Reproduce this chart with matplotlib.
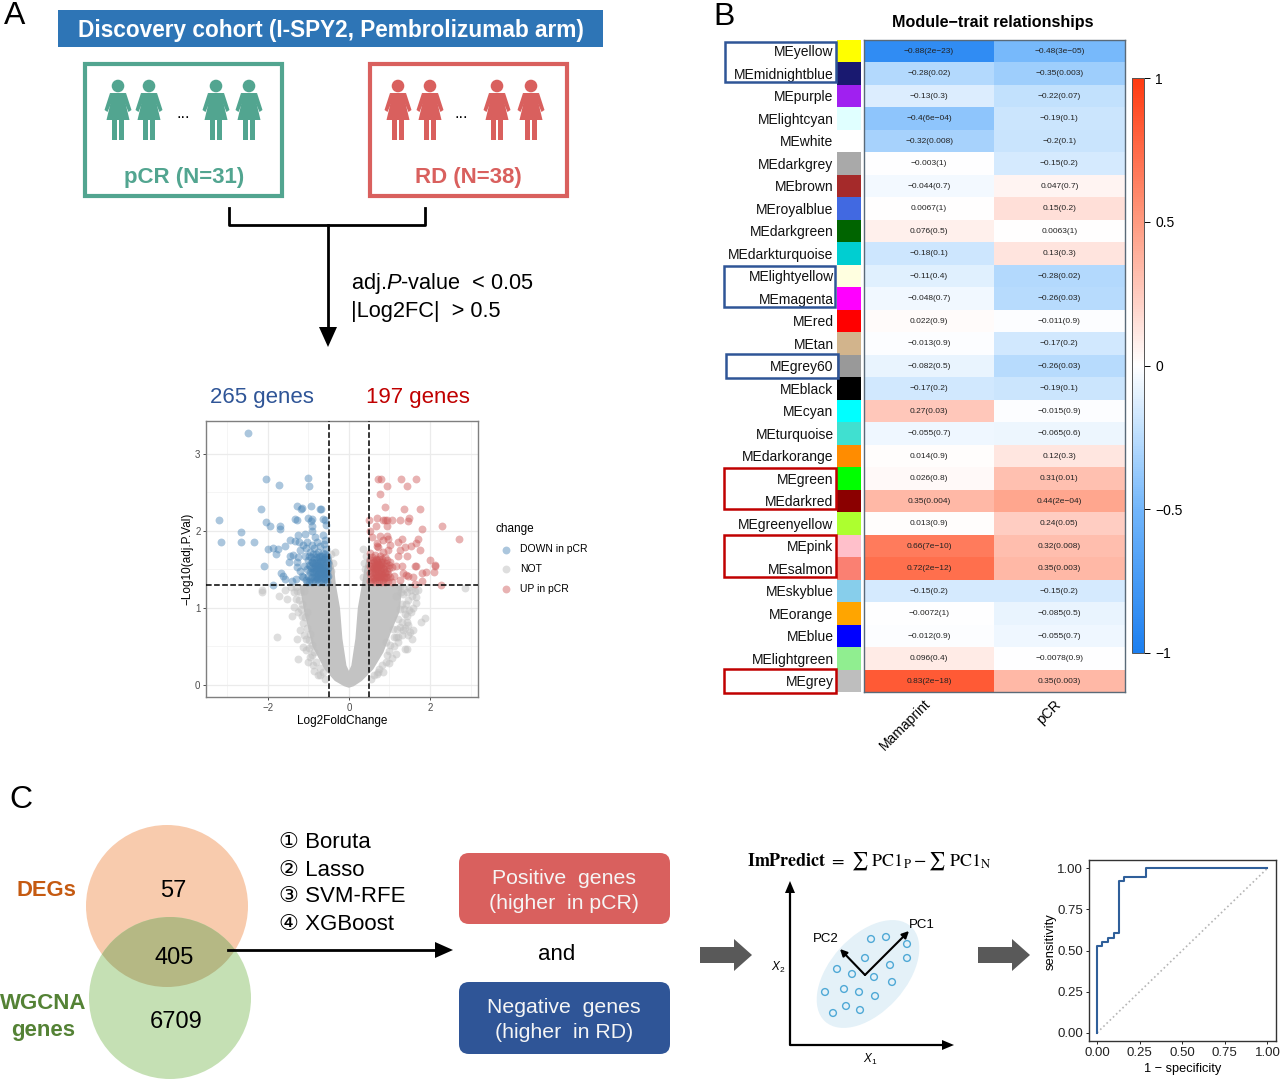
import numpy as np
import matplotlib
matplotlib.use("Agg")
import matplotlib.pyplot as plt
from matplotlib.colors import LinearSegmentedColormap
from matplotlib.patches import Rectangle, Circle, Ellipse, FancyBboxPatch, Polygon

plt.rcParams['font.family'] = ['Liberation Sans', 'DejaVu Sans']
plt.rcParams['mathtext.fontset'] = 'custom'
plt.rcParams['mathtext.it'] = 'Liberation Sans:italic'
plt.rcParams['mathtext.rm'] = 'Liberation Sans'

W, H = 1280, 1079

# heatmap data
modules = ["yellow", "midnightblue", "purple", "lightcyan", "white", "darkgrey", "brown",
           "royalblue", "darkgreen", "darkturquoise", "lightyellow", "magenta", "red", "tan",
           "grey60", "black", "cyan", "turquoise", "darkorange", "green", "darkred",
           "greenyellow", "pink", "salmon", "skyblue", "orange", "blue", "lightgreen", "grey"]
module_colors = ["#FFFF00", "#191970", "#A020F0", "#E0FFFF", "#FFFFFF", "#A9A9A9", "#A52A2A",
                 "#4169E1", "#006400", "#00CED1", "#FFFFE0", "#FF00FF", "#FF0000", "#D2B48C",
                 "#999999", "#000000", "#00FFFF", "#40E0D0", "#FF8C00", "#00FF00", "#8B0000",
                 "#ADFF2F", "#FFC0CB", "#FA8072", "#87CEEB", "#FFA500", "#0000FF", "#90EE90", "#BEBEBE"]
mama_r = [-0.88, -0.28, -0.13, -0.4, -0.32, -0.003, -0.044, 0.0067, 0.076, -0.18, -0.11, -0.048,
          0.022, -0.013, -0.082, -0.17, 0.27, -0.055, 0.014, 0.026, 0.35, 0.013, 0.66, 0.72,
          -0.15, -0.0072, -0.012, 0.096, 0.83]
mama_p = ["2e-23", "0.02", "0.3", "6e-04", "0.008", "1", "0.7", "1", "0.5", "0.1", "0.4", "0.7",
          "0.9", "0.9", "0.5", "0.2", "0.03", "0.7", "0.9", "0.8", "0.004", "0.9", "7e-10", "2e-12",
          "0.2", "1", "0.9", "0.4", "2e-18"]
pcr_r = [-0.48, -0.35, -0.22, -0.19, -0.2, -0.15, 0.047, 0.15, 0.0063, 0.13, -0.28, -0.26,
         -0.011, -0.17, -0.26, -0.19, -0.015, -0.065, 0.12, 0.31, 0.44, 0.24, 0.32, 0.35,
         -0.15, -0.085, -0.055, -0.0078, 0.35]
pcr_p = ["3e-05", "0.003", "0.07", "0.1", "0.1", "0.2", "0.7", "0.2", "1", "0.3", "0.02", "0.03",
         "0.9", "0.2", "0.03", "0.1", "0.9", "0.6", "0.3", "0.01", "2e-04", "0.05", "0.008", "0.003",
         "0.2", "0.5", "0.7", "0.9", "0.003"]
traits = ["Mamaprint", "pCR"]

# volcano data
down_pts = [(-2.48, 3.28), (-2.04, 2.68), (-1.71, 2.60), (-1.0, 2.69), (-0.98, 2.59), (-2.17, 2.29),
            (-1.27, 2.33), (-1.16, 2.30), (-1.18, 2.29), (-0.93, 2.33), (-0.71, 2.28), (-0.69, 2.29),
            (-3.21, 2.14), (-2.03, 2.12), (-1.95, 2.07), (-1.69, 2.06), (-1.69, 2.02), (-1.32, 2.16),
            (-1.28, 2.14), (-1.0, 2.17), (-0.9, 2.15), (-0.93, 2.13), (-0.65, 2.15), (-0.59, 2.14),
            (-0.57, 2.08), (-0.9, 2.06), (-2.66, 1.99), (-3.16, 1.85), (-2.66, 1.86), (-2.33, 1.85),
            (-2.0, 1.77), (-1.87, 1.78), (-1.74, 1.77), (-1.8, 1.70), (-1.57, 1.8), (-1.45, 1.88),
            (-1.25, 1.95), (-1.08, 1.96), (-0.84, 1.92), (-0.63, 1.95), (-0.58, 1.88), (-0.92, 2.0),
            (-2.09, 1.55), (-1.67, 1.45), (-1.62, 1.41), (-1.57, 1.37), (-1.86, 1.30), (-1.45, 1.68),
            (-1.25, 1.66), (-1.47, 1.59), (-1.29, 1.53), (-1.2, 1.48), (-1.4, 1.35), (-1.3, 1.38),
            (-1.38, 1.69), (-1.28, 1.6), (-1.24, 1.85), (-1.33, 1.87), (-1.21, 1.75), (-1.15, 1.42),
            (-1.12, 1.82), (-1.05, 1.78), (-1.02, 1.85), (-0.97, 1.72), (-0.92, 1.82), (-0.85, 1.78),
            (-0.78, 1.85), (-0.7, 1.81), (-0.62, 1.83), (-0.56, 1.77), (-1.08, 1.68), (-1.0, 1.62),
            (-0.94, 1.66), (-0.88, 1.7), (-0.82, 1.66), (-0.76, 1.72), (-0.7, 1.68), (-0.64, 1.71),
            (-0.58, 1.66), (-1.1, 1.55), (-1.04, 1.5), (-0.98, 1.56), (-0.93, 1.52), (-0.88, 1.58),
            (-0.84, 1.54), (-0.8, 1.6), (-0.76, 1.56), (-0.72, 1.61), (-0.68, 1.55), (-0.64, 1.6),
            (-0.6, 1.55), (-0.55, 1.59), (-0.52, 1.52), (-1.12, 1.4), (-1.06, 1.36), (-1.0, 1.42),
            (-0.96, 1.46), (-0.92, 1.4), (-0.88, 1.47), (-0.84, 1.42), (-0.8, 1.49), (-0.76, 1.44),
            (-0.72, 1.5), (-0.68, 1.44), (-0.64, 1.49), (-0.6, 1.44), (-0.56, 1.48), (-0.52, 1.42),
            (-1.04, 1.33), (-0.98, 1.35), (-0.9, 1.34), (-0.84, 1.35), (-0.78, 1.37), (-0.74, 1.34),
            (-0.68, 1.36), (-0.63, 1.34), (-0.58, 1.37), (-0.53, 1.34), (-0.82, 1.52), (-0.74, 1.53),
            (-0.66, 1.52), (-0.78, 1.42), (-0.7, 1.41), (-0.62, 1.4), (-0.9, 1.6), (-0.86, 1.5),
            (-0.75, 1.64), (-0.67, 1.63), (-0.6, 1.63), (-0.54, 1.68), (-0.79, 1.54), (-0.71, 1.47),
            (-0.98, 1.68), (-0.92, 1.6), (-0.86, 1.63), (-0.8, 1.7), (-0.73, 1.66), (-0.66, 1.67),
            (-0.6, 1.7), (-0.55, 1.63), (-0.96, 1.55), (-0.9, 1.47), (-0.83, 1.58), (-0.77, 1.5),
            (-0.7, 1.58), (-0.63, 1.56), (-0.57, 1.53), (-0.52, 1.58), (-0.95, 1.38), (-0.87, 1.38),
            (-0.81, 1.4), (-0.75, 1.39), (-0.67, 1.39), (-0.6, 1.38), (-0.54, 1.4), (-0.73, 1.45),
            (-0.65, 1.45), (-0.58, 1.46), (-0.53, 1.47), (-0.85, 1.46), (-0.69, 1.61), (-0.62, 1.5)]
up_pts = [(0.72, 2.67), (0.78, 2.67), (0.93, 2.59), (1.28, 2.67), (1.43, 2.59), (1.66, 2.67),
          (0.76, 2.48), (0.89, 2.31), (1.36, 2.29), (1.76, 2.29), (0.5, 2.14), (0.7, 2.17),
          (0.66, 2.06), (0.84, 2.14), (0.88, 2.14), (0.93, 2.14), (1.05, 2.14), (1.25, 2.14),
          (1.48, 2.17), (1.46, 2.13), (0.95, 2.07), (1.8, 2.03), (2.3, 2.06), (2.7, 1.9),
          (1.7, 1.9), (1.65, 1.84), (1.54, 1.81), (1.3, 1.9), (1.2, 1.85), (1.38, 1.79),
          (1.25, 1.75), (1.21, 1.68), (1.44, 1.68), (1.76, 1.75), (1.99, 1.62), (2.13, 1.56),
          (2.12, 1.55), (1.65, 1.55), (1.62, 1.55), (2.09, 1.47), (1.89, 1.46), (1.79, 1.45),
          (2.26, 1.30), (1.79, 1.35), (1.62, 1.31), (1.57, 1.4), (1.34, 1.45), (1.16, 1.55),
          (1.05, 1.53), (1.25, 1.36), (0.52, 2.0), (0.56, 1.92), (0.76, 1.94), (0.93, 1.94),
          (0.97, 1.9), (0.68, 1.81), (0.72, 1.79), (0.52, 1.71), (0.84, 1.73), (0.97, 1.75),
          (0.7, 1.84), (0.84, 1.88), (1.02, 1.82), (1.3, 1.54), (1.4, 1.43), (1.46, 1.42),
          (0.53, 1.62), (0.58, 1.66), (0.64, 1.69), (0.7, 1.62), (0.76, 1.68), (0.82, 1.63),
          (0.88, 1.66), (0.95, 1.62), (1.02, 1.6), (0.53, 1.54), (0.58, 1.58), (0.62, 1.52),
          (0.66, 1.57), (0.7, 1.5), (0.74, 1.56), (0.78, 1.52), (0.82, 1.57), (0.86, 1.5),
          (0.9, 1.55), (0.95, 1.48), (1.0, 1.52), (0.53, 1.45), (0.57, 1.49), (0.6, 1.43),
          (0.64, 1.47), (0.68, 1.42), (0.72, 1.46), (0.76, 1.41), (0.8, 1.46), (0.84, 1.41),
          (0.88, 1.45), (0.92, 1.4), (0.97, 1.44), (1.02, 1.4), (0.52, 1.35), (0.56, 1.37),
          (0.6, 1.34), (0.65, 1.36), (0.7, 1.34), (0.75, 1.36), (0.8, 1.34), (0.85, 1.35),
          (0.9, 1.33), (0.96, 1.35), (1.06, 1.34), (1.12, 1.42), (0.68, 1.6), (0.74, 1.64),
          (0.63, 1.6), (0.8, 1.55), (0.72, 1.53), (0.66, 1.5), (0.78, 1.44), (0.7, 1.4),
          (0.56, 1.52), (0.6, 1.62), (0.66, 1.64), (0.72, 1.58), (0.78, 1.6), (0.84, 1.6),
          (0.92, 1.58), (0.98, 1.56), (0.55, 1.4), (0.6, 1.47), (0.62, 1.39), (0.66, 1.43),
          (0.74, 1.4), (0.8, 1.4), (0.86, 1.39), (0.9, 1.47), (0.95, 1.4), (0.58, 1.54),
          (0.68, 1.53), (0.76, 1.49), (0.84, 1.5), (0.72, 1.43), (0.82, 1.43), (0.64, 1.55)]
not_pts = [(-2.15, 1.23), (-2.15, 1.2), (-1.71, 1.15), (-1.57, 1.23), (-1.53, 1.11), (-1.35, 1.01),
           (-1.41, 0.9), (-1.12, 0.8), (-1.2, 0.71), (-1.78, 0.62), (-1.29, 0.59), (-1.26, 0.34),
           (-1.12, 0.49), (-0.96, 0.36), (-0.75, 0.13), (-1.3, 1.12), (-1.25, 0.95), (-1.15, 1.05),
           (-1.2, 1.2), (-1.1, 0.65), (-1.05, 0.45), (-0.98, 0.58), (-0.88, 0.25), (-0.85, 0.42),
           (-1.3, 1.27), (-0.34, 1.73), (-0.39, 1.58), (-0.45, 1.7), (-0.43, 1.48), (0.35, 1.77),
           (0.37, 1.58), (0.35, 1.40), (0.42, 1.68), (0.4, 1.5), (2.87, 1.26), (1.7, 1.23),
           (1.66, 1.14), (1.87, 0.87), (1.77, 0.81), (1.58, 0.71), (1.46, 0.65), (1.38, 0.47),
           (1.42, 0.47), (1.34, 0.71), (1.17, 0.62), (0.93, 0.39), (1.52, 1.23), (1.34, 1.18),
           (1.25, 0.98), (1.58, 1.0), (1.66, 1.06), (1.62, 1.22), (1.45, 1.1), (1.38, 0.92),
           (1.3, 1.05), (1.42, 0.82), (1.2, 0.85), (1.1, 0.5), (1.05, 0.35), (0.75, 0.2),
           (0.68, 0.14), (0.92, 0.55), (1.25, 0.75), (1.35, 1.25), (1.5, 0.68), (1.55, 0.6),
           (1.28, 1.2), (1.48, 0.97), (1.16, 1.15), (1.22, 0.55),
           (-1.28, 1.22), (-1.22, 1.1), (-1.18, 0.98), (-1.08, 0.88), (-1.02, 0.74), (-0.95, 0.66),
           (-0.98, 0.48), (-0.9, 0.38), (-0.8, 0.3), (-0.72, 0.22), (-0.65, 0.17), (-1.16, 0.9),
           (-1.05, 0.6), (-0.92, 0.52), (-1.36, 1.2), (-1.42, 1.27), (-1.1, 1.22), (-1.02, 0.95),
           (-0.85, 0.18), (-0.58, 0.08), (-0.7, 0.12), (-1.0, 0.3), (0.62, 0.12), (0.72, 0.17),
           (0.82, 0.26), (0.92, 0.3), (0.98, 0.44), (1.02, 0.52), (1.12, 0.62), (1.18, 0.72),
           (1.3, 0.82), (1.35, 0.98), (1.4, 1.05), (1.42, 1.2), (1.25, 1.28), (1.48, 1.27),
           (1.56, 1.15), (1.52, 0.95), (1.44, 0.9), (1.3, 0.65), (1.15, 0.4), (1.0, 0.28),
           (1.08, 0.72), (1.2, 0.62), (1.38, 0.74), (1.45, 0.78), (0.55, 0.08), (0.85, 0.16)]
core_x = [-0.5, -1.22, -1.1, -0.9, -0.6, -0.35, -0.12, 0, 0.12, 0.32, 0.6, 0.85, 1.05, 1.25,
          1.32, 0.5, 0.5, 0.44, 0.38, 0.32, 0.22, 0.16, 0.06, 0, -0.06, -0.16, -0.22, -0.32, -0.36, -0.42, -0.5]
core_y = [1.3, 1.3, 0.95, 0.5, 0.2, 0.05, -0.02, -0.04, -0.02, 0.05, 0.2, 0.42, 0.7, 0.95,
          1.3, 1.3, 1.7, 1.65, 1.5, 1.3, 1.0, 0.6, 0.25, 0.18, 0.25, 0.6, 1.0, 1.3, 1.5, 1.65, 1.7]

# ROC curve
roc_fpr = [0, 0, 0.032, 0.032, 0.065, 0.065, 0.097, 0.097, 0.129, 0.129, 0.161, 0.161, 0.29, 0.29, 1]
roc_tpr = [0, 0.526, 0.526, 0.553, 0.553, 0.579, 0.579, 0.605, 0.605, 0.921, 0.921, 0.947, 0.947, 1, 1]

# PCA sketch points
pca_x = [871, 886, 907, 907, 865, 890, 837, 852, 874, 892, 825, 844, 859, 875, 846, 860, 833]
pca_y = [939, 937, 944, 958, 958, 965, 969, 974, 977, 982, 992, 989, 992, 996, 1006, 1010, 1013]

blue_dark = "#2F5597"
red_dark = "#C00000"
teal = "#52A590"
coral = "#D9605E"


def px_axes(l, t, r, b):
    return fig.add_axes([l / W, 1 - b / H, (r - l) / W, (b - t) / H])


fig = plt.figure(figsize=(W / 100, H / 100), dpi=100)

# full figure overlay in pixels
bg = fig.add_axes([0, 0, 1, 1], zorder=5)
bg.set_xlim(0, W)
bg.set_ylim(H, 0)
bg.axis("off")
bg.patch.set_alpha(0)

for letter, lx, ly in [("A", 15, 16), ("B", 724, 17), ("C", 21, 800)]:
    bg.text(lx, ly, letter, fontsize=23, ha="center", va="center")

# panel A
bg.add_patch(Rectangle((58, 10), 545, 37, color="#2E75B6", lw=0))
bg.text(331, 30, "Discovery cohort (I-SPY2, Pembrolizumab arm)", color="white", fontsize=16.3,
        fontweight="bold", ha="center", va="center")
bg.add_patch(Rectangle((84.5, 63.5), 197, 132, fill=False, ec=teal, lw=3))
bg.add_patch(Rectangle((369.5, 63.5), 197, 132, fill=False, ec=coral, lw=3))


def woman(cx, color):
    bg.add_patch(Circle((cx, 86), 6.3, color=color, lw=0))
    bg.add_patch(Polygon([(cx - 8, 93), (cx + 8, 93), (cx + 7, 101), (cx + 11.5, 120),
                          (cx - 11.5, 120), (cx - 7, 101)], color=color, lw=0))
    bg.add_patch(Polygon([(cx - 8, 93), (cx - 13.5, 110), (cx - 10.5, 112), (cx - 5, 99)], color=color, lw=0))
    bg.add_patch(Polygon([(cx + 8, 93), (cx + 13.5, 110), (cx + 10.5, 112), (cx + 5, 99)], color=color, lw=0))
    bg.add_patch(Rectangle((cx - 6, 119), 5, 21, color=color, lw=0))
    bg.add_patch(Rectangle((cx + 1, 119), 5, 21, color=color, lw=0))


for cx in [118, 149, 216, 249]:
    woman(cx, teal)
for cx in [398, 430, 497, 531]:
    woman(cx, coral)
bg.text(183, 114, "...", ha="center", va="center", fontsize=12)
bg.text(461, 114, "...", ha="center", va="center", fontsize=12)
bg.text(184, 178, "pCR (N=31)", color=teal, fontsize=16, fontweight="bold", ha="center", va="center")
bg.text(468, 178, "RD (N=38)", color=coral, fontsize=16, fontweight="bold", ha="center", va="center")

bg.plot([229, 229, 425, 425], [208, 225, 225, 208], color="black", lw=2)
bg.plot([328, 328], [225, 330], color="black", lw=2)
bg.add_patch(Polygon([(319, 327), (337, 327), (328, 347)], color="black", lw=0))
bg.text(351, 284, "adj.$\\mathit{P}$-value  < 0.05", fontsize=15.7, ha="left", va="center")
bg.text(351, 311, "|Log2FC|  > 0.5", fontsize=15.7, ha="left", va="center")
bg.text(262, 397, "265 genes", color=blue_dark, fontsize=16, ha="center", va="center")
bg.text(418, 397, "197 genes", color=red_dark, fontsize=16, ha="center", va="center")

# volcano
ax = px_axes(206, 421, 478, 697)
down = np.array(down_pts)
up = np.array(up_pts)
other = np.array(not_pts)
ax.fill(core_x, core_y, color="#C3C3C3", lw=0, zorder=2)
s_not = ax.scatter(other[:, 0], other[:, 1], s=32, color="#BEBEBE", alpha=0.5, lw=0, zorder=2, label="NOT")
s_down = ax.scatter(down[:, 0], down[:, 1], s=32, color="#4682B4", alpha=0.45, lw=0, zorder=3, label="DOWN in pCR")
s_up = ax.scatter(up[:, 0], up[:, 1], s=32, color="#CD5555", alpha=0.45, lw=0, zorder=3, label="UP in pCR")
ax.axhline(1.3, color="black", ls="--", lw=1.1, zorder=4)
ax.axvline(-0.5, color="black", ls="--", lw=1.1, zorder=4)
ax.axvline(0.5, color="black", ls="--", lw=1.1, zorder=4)
ax.set_xlim(-3.52, 3.18)
ax.set_ylim(-0.16, 3.43)
ax.set_xticks([-2, 0, 2])
ax.set_xticklabels(["\u22122", "0", "2"])
ax.set_yticks([0, 1, 2, 3])
ax.set_xticks([-3, -1, 1, 3], minor=True)
ax.set_yticks([0.5, 1.5, 2.5], minor=True)
ax.grid(True, which="major", color="#EBEBEB", lw=0.9, zorder=0)
ax.grid(True, which="minor", color="#F2F2F2", lw=0.5, zorder=0)
ax.set_axisbelow(True)
ax.tick_params(which="minor", length=0)
ax.tick_params(which="major", labelsize=7, colors="#4D4D4D", length=2.5, width=0.7, pad=1.5)
for sp in ax.spines.values():
    sp.set_color("#7F7F7F")
    sp.set_linewidth(1)
ax.set_xlabel("Log2FoldChange", fontsize=8.5, labelpad=1.5)
ax.set_ylabel("\u2212Log10(adj.P.Val)", fontsize=8.5, labelpad=1.5)
ax.legend(handles=[s_down, s_not, s_up], title="change", frameon=False, fontsize=7.5, title_fontsize=8.5,
          loc="upper left", bbox_to_anchor=(1.065, 0.632), labelspacing=0.93, handletextpad=0.35,
          alignment="left", borderpad=0, borderaxespad=0, markerscale=1)

# heatmap
hm = px_axes(864, 39.5, 1124.5, 692)
cmap = LinearSegmentedColormap.from_list("bwr_wgcna", [(0, "#1C7FF0"), (0.25, "#72B6FB"), (0.375, "#BBDDFD"),
                                                       (0.5, "#FFFFFF"), (0.625, "#FFCBBF"), (0.75, "#FF9B80"),
                                                       (1, "#FF3A10")])
mat = np.column_stack([mama_r, pcr_r])
mesh = hm.pcolormesh(mat, cmap=cmap, vmin=-1, vmax=1)
hm.set_ylim(len(modules), 0)
hm.set_xticks([])
hm.set_yticks([])
for i in range(len(modules)):
    for j, (rr, pp) in enumerate([(mama_r, mama_p), (pcr_r, pcr_p)]):
        txt = f"{rr[i]:g}({pp[i]})".replace("-", "\u2212")
        hm.text(j + 0.5, i + 0.52, txt, ha="center", va="center", fontsize=6, color="#222222")
for sp in hm.spines.values():
    sp.set_color("#5A6A78")
    sp.set_linewidth(1)

# module colour strip + row labels
strip = px_axes(837, 39.5, 861, 692)
strip.barh(np.arange(len(modules)) + 0.5, 1, height=1, color=module_colors, lw=0)
strip.set_xlim(0, 1)
strip.set_ylim(len(modules), 0)
strip.set_xticks([])
strip.set_yticks(np.arange(len(modules)) + 0.5)
strip.set_yticklabels(["ME" + m for m in modules], fontsize=10, color="#111111")
strip.tick_params(axis="y", length=0, pad=2.5)
for sp in strip.spines.values():
    sp.set_visible(False)

bg.text(993, 23, "Module\u2212trait relationships", fontsize=11.6, fontweight="bold", ha="center", va="center")
bg.text(905, 725, traits[0], fontsize=10, rotation=45, ha="center", va="center")
bg.text(1049, 712, traits[1], fontsize=10, rotation=45, ha="center", va="center")

boxes = [(725, 42, 836, 82, blue_dark), (724, 266, 835, 307, blue_dark), (726, 354, 838, 378, blue_dark),
         (724, 468, 836, 509, red_dark), (724, 535, 836, 577, red_dark), (724, 669, 836, 693, red_dark)]
for x0, y0, x1, y1, c in boxes:
    bg.add_patch(Rectangle((x0, y0), x1 - x0, y1 - y0, fill=False, ec=c, lw=1.8))

# colorbar
cax = px_axes(1132, 78, 1144, 653)
cb = fig.colorbar(mesh, cax=cax)
cb.set_ticks([-1, -0.5, 0, 0.5, 1])
cb.set_ticklabels(["\u22121", "\u22120.5", "0", "0.5", "1"])
cb.ax.tick_params(labelsize=10, length=4, width=0.7, pad=4)
cb.outline.set_edgecolor("#555555")
cb.outline.set_linewidth(0.7)

# panel C venn
c_top = Circle((167, 906), 81, color="#F8CBAD", lw=0, zorder=1)
c_low = Circle((170, 998), 81, color="#C5E0B4", lw=0, zorder=1.5)
bg.add_patch(c_top)
bg.add_patch(c_low)
c_mid = Circle((170, 998), 81, color="#B5B884", lw=0, zorder=2)
bg.add_patch(c_mid)
c_mid.set_clip_path(Circle((167, 906), 81, transform=bg.transData))
bg.text(173, 891, "57", fontsize=17, ha="center", va="center", zorder=3)
bg.text(174, 958, "405", fontsize=17, ha="center", va="center", zorder=3)
bg.text(176, 1022, "6709", fontsize=17, ha="center", va="center", zorder=3)
bg.text(46, 891, "DEGs", color="#C55A11", fontsize=15.8, fontweight="bold", ha="center", va="center")
bg.text(43, 1017, "WGCNA\ngenes", color="#548235", fontsize=16, fontweight="bold", ha="center", va="center",
        linespacing=1.4)

for txt, yy in zip(["\u2460 Boruta", "\u2461 Lasso", "\u2462 SVM-RFE", "\u2463 XGBoost"], [843, 870, 897, 924]):
    bg.text(279, yy, txt, fontsize=16, ha="left", va="center")

bg.plot([228, 438], [950, 950], color="black", lw=2, zorder=3)
bg.add_patch(Polygon([(435, 942), (435, 958), (453, 950)], color="black", lw=0, zorder=3))

bg.add_patch(FancyBboxPatch((469, 863), 191, 51, boxstyle="round,pad=10,rounding_size=10", color=coral, lw=0))
bg.add_patch(FancyBboxPatch((469, 992), 191, 52, boxstyle="round,pad=10,rounding_size=10", color=blue_dark, lw=0))
bg.text(564, 891, "Positive  genes\n(higher  in pCR)", color="#F5F5F5", fontsize=15.3, ha="center", va="center",
        linespacing=1.4)
bg.text(564, 1020, "Negative  genes\n(higher  in RD)", color="#F5F5F5", fontsize=15.3, ha="center", va="center",
        linespacing=1.4)
bg.text(557, 955, "and", fontsize=16, ha="center", va="center")


def block_arrow(x0):
    bg.add_patch(Polygon([(x0, 947), (x0 + 34, 947), (x0 + 34, 939), (x0 + 52, 955), (x0 + 34, 971),
                          (x0 + 34, 963), (x0, 963)], color="#595959", lw=0))


block_arrow(700)
block_arrow(978)

# PCA sketch
bg.text(747, 861, r"$\mathbf{ImPredict}\ =\ \sum\ \mathrm{PC1_P} - \sum\ \mathrm{PC1_N}$", fontsize=13,
        math_fontfamily="stix", ha="left", va="center")
bg.add_patch(Ellipse((868, 974), 128, 76, angle=-48, color="#E4F1F8", lw=0))
bg.plot([790, 790, 942], [892, 1045, 1045], color="black", lw=1.6)
bg.add_patch(Polygon([(785, 893), (795, 893), (790, 881)], color="black", lw=0))
bg.add_patch(Polygon([(942, 1040), (942, 1050), (954, 1045)], color="black", lw=0))
bg.scatter(pca_x, pca_y, s=24, facecolor="none", edgecolor="#4FA9D6", lw=1, zorder=3)
bg.annotate("", xy=(909, 931), xytext=(865, 975), arrowprops=dict(arrowstyle="-|>", color="black", lw=1.5, shrinkA=0, shrinkB=0), zorder=4)
bg.annotate("", xy=(840, 949), xytext=(865, 975), arrowprops=dict(arrowstyle="-|>", color="black", lw=1.5, shrinkA=0, shrinkB=0), zorder=4)
bg.text(922, 925, "PC1", fontsize=9.5, ha="center", va="center")
bg.text(826, 939, "PC2", fontsize=9.5, ha="center", va="center")
bg.text(778, 967, "$X_2$", fontsize=8.5, ha="center", va="center")
bg.text(870, 1059, "$X_1$", fontsize=8.5, ha="center", va="center")

# ROC
roc = px_axes(1088.5, 860, 1276, 1041)
roc.plot([0, 1], [0, 1], color="#B5B5B5", ls=":", lw=1.2)
roc.plot(roc_fpr, roc_tpr, color="#2F5F9A", lw=1.5)
roc.set_xlim(-0.05, 1.05)
roc.set_ylim(-0.05, 1.05)
roc.set_xticks([0, 0.25, 0.5, 0.75, 1])
roc.set_xticklabels(["0.00", "0.25", "0.50", "0.75", "1.00"])
roc.set_yticks([0, 0.25, 0.5, 0.75, 1])
roc.set_yticklabels(["0.00", "0.25", "0.50", "0.75", "1.00"])
roc.tick_params(labelsize=9.5, length=2.5, width=0.7, pad=1.5, colors="#222222")
for sp in roc.spines.values():
    sp.set_linewidth(1)
    sp.set_color("#333333")
roc.set_xlabel("1 \u2212 specificity", fontsize=9.2, labelpad=3)
roc.set_ylabel("sensitivity", fontsize=9.4, y=0.55, labelpad=0)

fig.savefig("out.png", dpi=100)
